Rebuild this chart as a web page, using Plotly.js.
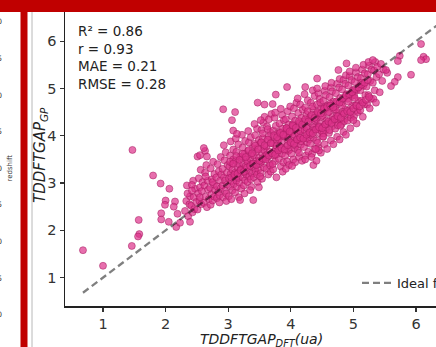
<!DOCTYPE html>
<html>
<head>
<meta charset="utf-8">
<script src="https://cdn.plot.ly/plotly-3.0.1.min.js"></script>
<style>html,body{margin:0;padding:0;background:#fff;}#chart{width:436px;height:347px;}</style>
</head>
<body>
<div id="chart"></div>
<script>
// ---- data (TDDFT gap: DFT vs GP prediction) ----
const bandLowX = [2.31,2.33,2.36,2.38,2.34,2.39, 2.41,2.43,2.45,2.47,2.49,2.44,2.46,2.42,
 2.51,2.52,2.53,2.54,2.55,2.56,2.57,2.58,2.59,2.55, 2.61,2.62,2.63,2.64,2.65,2.66,2.67,2.68,2.69,2.64,
 2.71,2.72,2.72,2.73,2.74,2.75,2.76,2.77,2.78,2.78,2.79,2.75, 2.81,2.82,2.82,2.83,2.84,2.85,2.86,2.87,2.88,2.88,2.89,2.86,
 2.91,2.91,2.92,2.93,2.94,2.95,2.95,2.96,2.97,2.98,2.98,2.99,2.93,2.97];
const bandLowY = [2.41,2.62,2.30,2.55,2.95,2.72, 2.52,2.38,2.70,2.88,2.60,3.05,2.45,2.96,
 2.44,2.78,3.10,2.62,2.91,3.28,2.55,2.83,3.02,2.70, 2.58,2.95,3.22,2.71,3.38,2.49,3.05,2.86,2.66,3.14,
 2.90,2.54,3.31,2.76,3.08,2.63,3.45,2.97,2.71,3.19,2.85,3.02, 3.12,2.68,2.93,3.40,2.81,3.25,2.59,3.05,2.89,3.55,3.18,2.74,
 2.95,3.30,2.70,3.12,3.48,2.84,3.05,3.65,2.62,3.22,2.97,3.38,3.80,2.78];

const bandMidX = [3.01,3.01,3.02,3.03,3.03,3.04,3.05,3.05,3.06,3.07,3.07,3.08,3.09,3.09,3.04,3.08,
 3.11,3.11,3.12,3.13,3.13,3.14,3.15,3.15,3.16,3.17,3.17,3.18,3.19,3.19,3.12,3.16,
 3.21,3.21,3.22,3.23,3.23,3.24,3.25,3.25,3.26,3.27,3.27,3.28,3.29,3.29,3.22,3.26,
 3.31,3.31,3.32,3.33,3.33,3.34,3.35,3.35,3.36,3.37,3.37,3.38,3.39,3.39,3.32,3.36,
 3.41,3.41,3.42,3.43,3.43,3.44,3.45,3.45,3.46,3.47,3.47,3.48,3.49,3.49,3.42,3.46,3.44,
 3.51,3.52,3.52,3.53,3.54,3.54,3.55,3.56,3.56,3.57,3.58,3.58,3.59,3.51,3.55,3.57,3.53,
 3.61,3.61,3.62,3.63,3.64,3.64,3.65,3.66,3.66,3.67,3.68,3.68,3.69,3.62,3.65,3.67,3.63,
 3.71,3.72,3.72,3.73,3.74,3.74,3.75,3.76,3.76,3.77,3.78,3.78,3.79,3.71,3.75,3.77,3.73,
 3.81,3.81,3.82,3.83,3.83,3.84,3.85,3.86,3.86,3.87,3.88,3.88,3.89,3.82,3.84,3.87,3.85,
 3.91,3.91,3.92,3.93,3.93,3.94,3.95,3.95,3.96,3.97,3.97,3.98,3.99,3.99,3.92,3.94,3.96,3.98];
const bandMidY = [3.10,2.72,3.35,2.93,3.58,3.20,2.66,3.04,3.42,3.28,2.85,3.71,3.15,2.98,3.88,3.50,
 3.22,2.80,3.47,3.05,3.66,2.92,3.33,3.14,3.82,2.70,3.40,3.01,3.55,3.27,3.94,3.11,
 3.30,2.88,3.56,3.12,3.75,3.41,2.95,3.23,3.62,3.06,3.89,3.36,3.18,3.50,4.02,2.78,
 3.45,3.02,3.68,3.25,3.86,3.14,3.52,3.36,3.97,2.92,3.60,3.20,3.74,3.42,4.10,3.08,
 3.58,3.12,3.83,3.31,4.01,3.24,3.66,3.47,4.15,3.02,3.74,3.29,3.91,3.53,4.25,3.18,3.40,
 3.40,3.86,3.21,4.12,3.63,3.09,3.95,3.50,4.28,3.33,3.77,4.40,3.58,3.14,4.05,3.70,3.45,
 3.77,3.30,4.20,3.55,3.92,3.18,4.35,3.66,3.42,4.08,3.85,3.24,4.46,3.60,3.99,3.37,4.14,
 3.84,3.29,4.11,3.58,3.97,4.38,3.46,3.72,4.21,3.12,3.90,3.61,4.05,3.40,4.49,3.79,3.66,
 3.93,3.51,4.26,3.70,4.08,3.35,3.86,4.44,3.62,4.15,3.44,3.99,4.33,3.78,4.57,3.24,4.02,
 4.01,3.58,4.35,3.77,4.17,3.46,3.92,4.52,3.68,4.24,3.38,4.06,4.62,3.84,3.30,4.12,3.96,3.71];

const bandHighX = [4.01,4.01,4.02,4.03,4.03,4.04,4.05,4.05,4.06,4.07,4.07,4.08,4.09,4.09,4.02,4.04,4.06,4.08,
 4.11,4.12,4.12,4.13,4.14,4.14,4.15,4.16,4.16,4.17,4.18,4.18,4.19,4.11,4.13,4.15,4.17,4.19,
 4.21,4.21,4.22,4.23,4.24,4.24,4.25,4.26,4.26,4.27,4.28,4.28,4.29,4.22,4.23,4.25,4.27,4.29,
 4.31,4.31,4.32,4.33,4.34,4.34,4.35,4.36,4.36,4.37,4.38,4.38,4.39,4.32,4.33,4.35,4.37,4.39,
 4.41,4.41,4.42,4.43,4.44,4.44,4.45,4.46,4.46,4.47,4.48,4.48,4.49,4.42,4.43,4.45,4.47,4.49,
 4.51,4.51,4.52,4.53,4.54,4.54,4.55,4.56,4.56,4.57,4.58,4.58,4.59,4.52,4.55,4.57,4.53,
 4.61,4.61,4.62,4.63,4.64,4.64,4.65,4.66,4.66,4.67,4.68,4.68,4.69,4.62,4.65,4.67,4.63,
 4.71,4.71,4.72,4.73,4.74,4.74,4.75,4.76,4.77,4.77,4.78,4.79,4.72,4.75,4.78,4.73,
 4.81,4.81,4.82,4.83,4.84,4.84,4.85,4.86,4.87,4.87,4.88,4.89,4.82,4.85,4.88,4.83,
 4.91,4.91,4.92,4.93,4.94,4.95,4.95,4.96,4.97,4.98,4.99,4.92,4.94,4.96,4.98,
 5.01,5.01,5.02,5.03,5.04,5.05,5.05,5.06,5.07,5.08,5.09,5.02,5.04,5.07,
 5.11,5.11,5.12,5.13,5.14,5.15,5.16,5.17,5.18,5.19,5.13,5.16,
 5.21,5.22,5.23,5.24,5.25,5.26,5.27,5.28,5.29,5.24,
 5.31,5.32,5.33,5.34,5.35,5.36,5.37,5.38,
 5.41,5.42,5.44,5.46,5.48];
const bandHighY = [4.08,3.62,4.41,3.86,4.25,3.50,3.99,4.58,3.74,4.32,3.44,4.14,4.70,3.91,3.36,4.20,4.02,3.79,
 3.70,4.48,4.05,3.55,4.27,3.92,4.66,4.14,3.81,4.38,3.47,4.00,4.21,4.79,3.64,4.10,3.88,4.55,
 4.30,3.76,4.12,4.60,3.95,3.58,4.45,4.20,3.86,4.75,4.04,3.66,4.36,4.88,3.50,4.17,4.52,3.92,
 3.83,4.40,4.70,4.08,3.62,4.25,4.96,3.96,4.55,4.18,3.72,4.84,4.32,4.02,3.55,4.62,4.12,4.45,
 4.35,3.90,4.66,4.15,4.90,3.75,4.48,4.05,4.78,4.26,3.64,4.58,4.40,5.00,3.85,4.20,4.70,4.10,
 4.42,3.98,4.74,4.20,4.95,3.82,4.56,4.12,4.86,4.32,3.72,4.64,4.48,4.05,5.05,4.26,4.60,
 4.50,4.06,4.82,4.28,5.02,3.90,4.64,4.20,4.94,4.40,3.82,4.72,4.56,4.12,5.12,4.34,4.68,
 4.62,4.15,4.90,4.36,5.10,3.98,4.72,4.28,5.02,4.48,3.92,4.80,4.55,4.22,5.20,4.42,
 4.70,4.24,4.98,4.45,5.18,4.08,4.80,4.36,5.10,4.56,4.02,4.88,4.64,4.30,5.28,4.50,
 4.78,4.32,5.06,4.54,5.26,4.16,4.88,4.44,5.18,4.64,4.96,4.72,5.36,4.38,4.84,
 4.86,4.42,5.14,4.64,5.34,4.26,4.96,4.54,5.24,4.74,5.04,4.80,5.44,4.50,
 4.96,4.54,5.22,4.74,5.40,4.40,5.06,4.66,5.32,4.86,5.12,5.50,
 5.04,4.66,5.30,4.86,5.48,4.58,5.16,4.78,5.40,5.56,
 5.12,4.78,5.38,4.96,5.56,4.70,5.24,5.46,
 5.30,4.92,5.52,5.16,5.40];

// extra points in the dense core of the cloud
const coreX = [3.03,3.08,3.13,3.18,3.23,3.28,3.33,3.38,3.43,3.48,3.53,3.58,3.63,3.68,3.73,3.78,3.83,3.88,3.93,3.98,
 4.03,4.08,4.13,4.18,4.23,4.28,4.33,4.38,4.43,4.48,4.53,4.58,4.63,4.68,4.73,4.78,4.83,4.88,4.93,4.98,5.03,5.08,5.13,5.18,5.23,
 3.05,3.10,3.15,3.20,3.25,3.30,3.35,3.40,3.45,3.50,3.55,3.60,3.65,3.70,3.75,3.80,3.85,3.90,3.95,4.00,
 4.05,4.10,4.15,4.20,4.25,4.30,4.35,4.40,4.45,4.50,4.55,4.60,4.65,4.70,4.75,4.80,4.85,4.90,4.95,5.00,5.05,5.10,5.15,5.20,5.25];
const coreY = [3.45,3.41,3.57,3.49,3.62,3.55,3.70,3.63,3.79,3.71,3.86,3.80,3.92,3.84,4.01,3.97,4.06,4.02,4.16,4.09,
 4.22,4.17,4.31,4.24,4.35,4.30,4.44,4.38,4.50,4.47,4.57,4.61,4.64,4.60,4.73,4.70,4.79,4.85,4.88,4.92,4.99,5.02,5.08,5.12,5.18,
 3.12,3.18,3.20,3.27,3.24,3.33,3.36,3.41,3.38,3.47,3.52,3.50,3.58,3.63,3.60,3.69,3.74,3.71,3.80,3.86,
 3.83,3.92,3.96,3.94,4.02,4.07,4.05,4.13,4.18,4.16,4.24,4.30,4.27,4.35,4.41,4.38,4.47,4.52,4.50,4.58,4.64,4.62,4.70,4.76,4.82];

const outlierX = [0.68,1.00,1.47,1.57,1.58,1.56,1.46,1.80,1.92,2.06,2.00,1.99,1.93,1.93,2.05,2.17,2.15,2.13,2.19,2.23,2.35,2.42,2.39,2.51,2.63,2.66,2.61,2.55,
 2.92,3.11,3.06,3.08,3.14,3.47,3.58,3.71,3.76,3.94,4.23,3.52,
 3.40,3.19,3.35,3.49,4.36,4.41,4.45,4.40,4.52,4.79,5.00,
 6.08,6.12,6.16,6.08,5.74,5.71,5.92,5.54,5.52,5.71,5.66,5.60,4.89,4.42,4.76,5.31];
const outlierY = [1.58,1.25,3.70,2.22,1.92,1.87,1.67,3.16,2.99,2.88,2.63,2.54,2.36,2.23,2.18,2.07,2.61,2.50,2.35,2.16,2.78,2.84,2.18,3.56,3.68,3.56,3.74,3.59,
 4.56,4.50,4.33,4.11,4.04,4.70,4.66,4.67,4.87,5.03,5.03,4.33,
 2.64,2.64,2.85,2.91,3.38,3.47,3.69,3.72,3.98,4.21,4.33,
 5.94,5.67,5.62,5.60,5.69,5.58,5.29,5.33,5.39,5.24,5.14,5.05,5.53,5.21,5.39,5.60];

const idealX = [0.68, 6.6];
const idealY = [0.68, 6.6];

const xTicks = [1, 2, 3, 4, 5, 6];
const yTicks = [1, 2, 3, 4, 5, 6];
const statsLines = ["R\u00b2 = 0.86", "r = 0.93", "MAE = 0.21", "RMSE = 0.28"];
const sideTickText = ["4.0","3.5","3.0","2.5","2.0","1.5","1.0","0.5","0.0"];
const xTitle = "<i>TDDFTGAP<sub>DFT</sub>(ua)</i>";
const yTitle = "<i>TDDFTGAP<sub>GP</sub></i>";

// ---- build ----
const dftAll = bandLowX.concat(bandMidX, bandHighX, coreX, outlierX);
const gpAll = bandLowY.concat(bandMidY, bandHighY, coreY, outlierY);

const FONT = "DejaVu Sans, Liberation Sans, sans-serif";
const W = 436, H = 347, ML = 65, MT = 12, MB = 41;
const PW = W - ML, PH = H - MT - MB;
const px2x = p => (p - ML) / PW;
const py2y = p => (H - MB - p) / PH;

const traces = [
  {
    type: "scatter", mode: "markers", x: dftAll, y: gpAll, showlegend: false,
    marker: { size: 7, color: "rgba(221,50,138,0.7)", line: { color: "rgba(165,25,95,0.65)", width: 0.8 } },
    hoverinfo: "skip"
  },
  {
    type: "scatter", mode: "lines", x: idealX, y: idealY, name: "Ideal fit",
    line: { color: "rgba(0,0,0,0.5)", width: 2.3, dash: "7px,4px" }
  }
];

const annotations = [
  {
    xref: "paper", yref: "paper", x: px2x(76), y: py2y(21), xanchor: "left", yanchor: "top",
    text: statsLines.join("<br>"), align: "left", showarrow: false,
    font: { family: FONT, size: 13.5, color: "#222" }
  },
  {
    xref: "paper", yref: "paper", x: px2x(261), y: py2y(340), xanchor: "center", yanchor: "middle",
    text: xTitle, showarrow: false, font: { family: FONT, size: 14, color: "#222" }
  },
  {
    xref: "paper", yref: "paper", x: px2x(40), y: py2y(155), xanchor: "center", yanchor: "middle",
    text: yTitle, textangle: -90, showarrow: false, font: { family: FONT, size: 15, color: "#222" }
  },
  {
    xref: "paper", yref: "paper", x: px2x(9.5), y: py2y(168), xanchor: "center", yanchor: "middle",
    text: "redshift", textangle: -90, showarrow: false, font: { family: FONT, size: 7, color: "#333" }
  }
];
const sideY = [21.7, 58.3, 95, 131.6, 168.2, 204.8, 241.4, 278, 314.6];
sideTickText.forEach((t, i) => annotations.push({
  xref: "paper", yref: "paper", x: px2x(4.5), y: py2y(sideY[i]), xanchor: "right", yanchor: "middle",
  text: t, showarrow: false, font: { family: FONT, size: 7.5, color: "#333" }
}));

const shapes = [
  { type: "line", xref: "paper", yref: "paper", x0: px2x(32), x1: px2x(32), y0: py2y(12), y1: py2y(347),
    line: { color: "#b8b8b8", width: 1 } },
  { type: "rect", xref: "paper", yref: "paper", x0: px2x(0), x1: px2x(436), y0: py2y(0), y1: py2y(12),
    fillcolor: "#c00000", line: { width: 0 } },
  { type: "rect", xref: "paper", yref: "paper", x0: px2x(20.5), x1: px2x(27.5), y0: py2y(0), y1: py2y(347),
    fillcolor: "#c00000", line: { width: 0 } }
];

const layout = {
  width: W, height: H,
  margin: { l: ML, r: 0, t: MT, b: MB, pad: 0, autoexpand: false },
  paper_bgcolor: "#fff", plot_bgcolor: "#fff",
  font: { family: FONT, color: "#333" },
  xaxis: {
    range: [0.393, 6.319], tickvals: xTicks, ticks: "outside", ticklen: 4, tickwidth: 1.2, tickcolor: "#333",
    showline: true, linecolor: "#222", linewidth: 1.5, showgrid: false, zeroline: false,
    tickfont: { family: FONT, size: 14.5, color: "#333" }
  },
  yaxis: {
    range: [0.40, 6.617], tickvals: yTicks, ticks: "outside", ticklen: 4, tickwidth: 1.2, tickcolor: "#333",
    showline: true, linecolor: "#222", linewidth: 1.5, showgrid: false, zeroline: false,
    tickfont: { family: FONT, size: 14.5, color: "#333" }
  },
  showlegend: true,
  legend: {
    x: px2x(357), y: py2y(283), xanchor: "left", yanchor: "middle",
    bgcolor: "rgba(0,0,0,0)", borderwidth: 0,
    font: { family: FONT, size: 13, color: "#222" }
  },
  annotations: annotations,
  shapes: shapes
};

Plotly.newPlot("chart", traces, layout, { staticPlot: true, displayModeBar: false });
</script>
</body>
</html>
